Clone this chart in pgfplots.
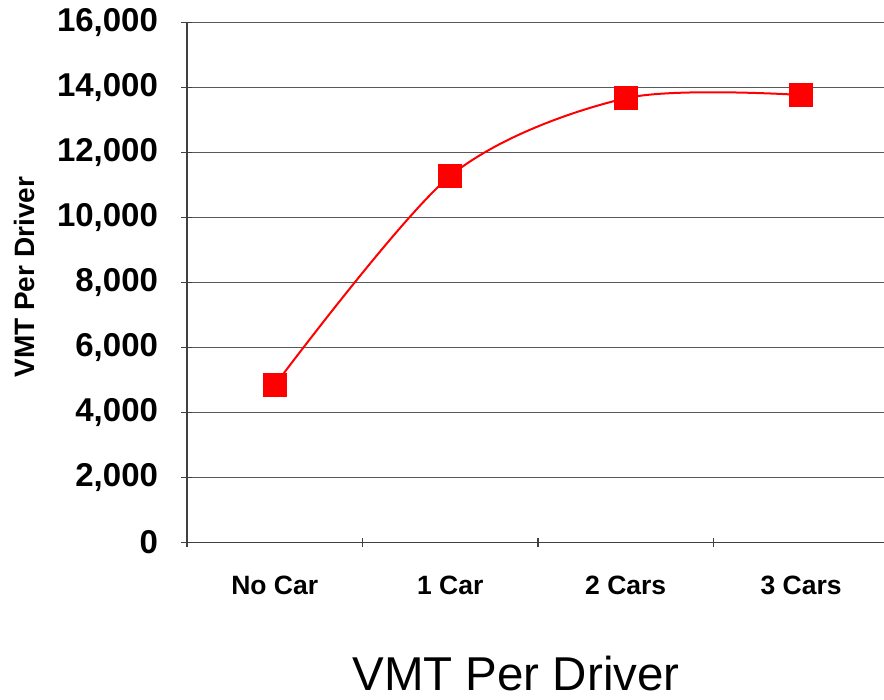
\documentclass[border=0pt]{standalone}
\usepackage{pgfplots}
\pgfplotsset{compat=1.18}
\usepackage{fontspec}
\setmainfont{Liberation Sans}
\begin{document}
\begin{tikzpicture}[x=1pt,y=1pt]
\useasboundingbox (-187,-157.7) rectangle (697,542.3);
\begin{axis}[
  at={(0,0)}, anchor=south west,
  scale only axis,
  width=697pt, height=520pt,
  xmin=-0.5, xmax=3.472,
  ymin=0, ymax=16000,
  axis x line=bottom, axis y line=left,
  axis line style={-, black!75, line width=1.1pt},
  ytick={0,2000,...,16000},
  ymajorgrids,
  grid style={black!65, line width=1.1pt},
  major tick length=11pt,
  tick style={black!75, line width=1.1pt},
  ytick pos=left,
  y tick label style={font=\fontsize{33}{35}\selectfont\bfseries, xshift=-20pt},
  /pgf/number format/.cd, 1000 sep={,}, assume math mode=true,
  /pgfplots/.cd,
  scaled y ticks=false,
  xtick={-0.5,0.5,1.5,2.5},
  xticklabels={},
  x tick style={/pgfplots/major tick length=9pt},
  extra x ticks={0,1,2,3},
  extra x tick labels={No Car,1 Car,2 Cars,3 Cars},
  extra x tick style={major tick length=0pt, tick style={draw=none}, tick label style={font=\fontsize{26.5}{28}\selectfont\bfseries, yshift=-30pt}},
  clip=false,
]
\addplot[red, line width=2pt, smooth, mark=square*, mark size=11.5pt, mark options={fill=red, draw=red, line width=0pt}]
  coordinates {(0,4834) (1,11271) (2,13662) (3,13763)};
\end{axis}
\node[rotate=90, font=\fontsize{28}{30}\selectfont\bfseries] at (-163,265) {VMT Per Driver};
\node[font=\fontsize{47.5}{50}\selectfont, inner sep=0pt] at (329,-131) {VMT Per Driver};
\end{tikzpicture}
\end{document}
